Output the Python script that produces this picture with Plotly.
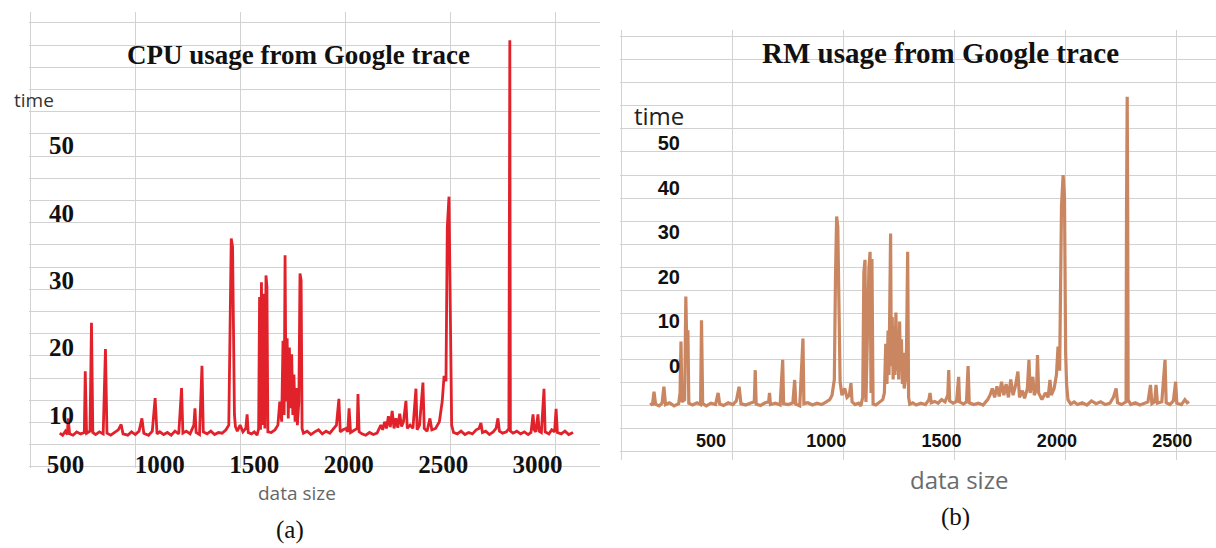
import plotly.graph_objects as go

W, H = 1216, 548

# ---------------- data ----------------
cpu_size = [470, 485, 500, 510, 515, 522, 540, 560, 580, 600, 605, 612, 630, 638, 645, 660, 680, 700, 712, 720,
            740, 760, 780, 795, 805, 830, 850, 870, 890, 905, 915, 940, 960, 975, 985, 1000, 1020, 1040, 1060, 1080,
            1100, 1115, 1122, 1140, 1160, 1180, 1186, 1192, 1210, 1223, 1230, 1250, 1270, 1290, 1310, 1330, 1350, 1365, 1372, 1378,
            1385, 1390, 1395, 1400, 1410, 1425, 1440, 1455, 1462, 1468, 1485, 1500, 1515, 1523, 1528, 1533, 1538, 1543, 1550, 1556,
            1562, 1567, 1572, 1590, 1610, 1625, 1635, 1645, 1652, 1658, 1663, 1668, 1674, 1680, 1686, 1692, 1698, 1704, 1710, 1716,
            1722, 1728, 1736, 1742, 1748, 1753, 1760, 1780, 1800, 1820, 1840, 1860, 1880, 1900, 1920, 1935, 1948, 1955, 1970, 1985,
            1995, 2002, 2010, 2030, 2045, 2049, 2055, 2070, 2090, 2110, 2130, 2150, 2170, 2180, 2190, 2200, 2210, 2220, 2230, 2240,
            2250, 2260, 2270, 2280, 2290, 2303, 2310, 2325, 2340, 2356, 2362, 2375, 2393, 2400, 2415, 2430, 2440, 2460, 2480, 2495,
            2505, 2515, 2522, 2531, 2538, 2545, 2555, 2575, 2595, 2615, 2635, 2655, 2675, 2690, 2700, 2708, 2725, 2745, 2765, 2780,
            2790, 2798, 2815, 2835, 2848, 2851, 2853, 2856, 2870, 2890, 2910, 2930, 2950, 2965, 2976, 2982, 2990, 3002, 3008, 3020,
            3034, 3040, 3060, 3075, 3090, 3098, 3105, 3125, 3145, 3165, 3188]
cpu_time = [7.3, 7.0, 7.6, 7.1, 9.5, 7.2, 7.0, 7.5, 7.2, 7.4, 16.5, 7.3, 7.6, 23.7, 7.4, 7.1, 7.5, 7.2, 19.8, 7.3,
            7.0, 7.4, 7.8, 8.6, 7.2, 7.0, 7.5, 7.1, 7.6, 9.5, 7.3, 7.0, 7.6, 12.5, 7.2, 7.5, 7.1, 7.4, 7.0, 7.6,
            7.2, 14.0, 7.3, 7.6, 7.2, 8.5, 11.0, 7.4, 7.1, 17.3, 7.5, 7.2, 7.6, 7.1, 7.4, 7.3, 7.8, 8.5, 20.5, 36.2,
            35.0, 20.0, 10.0, 8.3, 7.6, 8.5, 7.5, 8.0, 10.1, 7.4, 7.2, 7.5, 7.0, 8.0, 27.5, 7.8, 29.7, 8.5, 28.0, 8.0,
            30.7, 29.0, 7.5, 7.4, 7.8, 8.5, 12.0, 9.0, 21.0, 10.0, 33.7, 12.0, 21.4, 9.5, 20.0, 11.0, 19.0, 10.0, 16.0, 9.0,
            14.0, 8.5, 12.0, 31.0, 30.0, 8.0, 7.3, 7.6, 7.1, 7.5, 7.8, 7.2, 7.6, 7.3, 8.0, 8.5, 12.4, 7.5, 7.8, 8.0,
            7.5, 11.0, 7.4, 7.8, 8.0, 13.1, 7.5, 7.2, 7.0, 7.4, 7.1, 7.3, 8.5, 7.8, 9.0, 8.0, 9.8, 8.2, 10.6, 8.0,
            9.5, 8.1, 10.2, 8.3, 9.0, 12.1, 8.0, 8.5, 8.0, 13.9, 7.8, 8.5, 14.8, 8.0, 7.6, 9.5, 7.8, 8.0, 9.0, 12.0,
            15.8, 15.0, 37.9, 42.4, 20.0, 8.5, 7.4, 7.2, 7.6, 7.1, 7.4, 7.2, 7.8, 8.0, 8.8, 7.4, 7.6, 7.1, 7.5, 8.0,
            9.5, 7.6, 7.3, 7.5, 8.0, 55.3, 65.6, 7.6, 7.3, 7.6, 7.2, 7.5, 7.1, 7.4, 10.1, 7.8, 7.5, 10.1, 7.6, 7.4,
            13.9, 7.5, 7.2, 7.8, 7.5, 10.9, 7.4, 7.2, 7.6, 7.1, 7.4]

rm_size = [238, 246, 253, 260, 275, 288, 296, 303, 320, 340, 360, 366, 370, 374, 386, 391, 394, 400, 404, 420,
           440, 455, 459, 464, 480, 500, 520, 531, 538, 555, 575, 595, 610, 622, 630, 650, 670, 688, 692, 696,
           715, 735, 750, 754, 758, 780, 800, 811, 815, 835, 855, 863, 868, 885, 899, 903, 920, 940, 960, 980,
           1000, 1015, 1025, 1035, 1040, 1045, 1050, 1054, 1060, 1068, 1080, 1090, 1100, 1107, 1112, 1125, 1140, 1150, 1158, 1163,
           1168, 1172, 1178, 1185, 1190, 1194, 1198, 1203, 1215, 1230, 1245, 1252, 1258, 1263, 1268, 1272, 1276, 1279, 1282, 1286,
           1290, 1294, 1298, 1302, 1306, 1310, 1314, 1318, 1322, 1326, 1330, 1333, 1338, 1343, 1348, 1353, 1357, 1362, 1375, 1390,
           1410, 1430, 1445, 1450, 1455, 1470, 1485, 1500, 1515, 1527, 1531, 1535, 1550, 1565, 1574, 1578, 1595, 1608, 1615, 1620,
           1640, 1660, 1680, 1700, 1710, 1720, 1730, 1740, 1750, 1760, 1770, 1780, 1790, 1800, 1810, 1820, 1831, 1838, 1850, 1860,
           1872, 1879, 1884, 1896, 1902, 1912, 1916, 1921, 1935, 1950, 1962, 1970, 1976, 1988, 1998, 2005, 2012, 2020, 2027, 2033,
           2038, 2042, 2048, 2060, 2075, 2090, 2110, 2130, 2150, 2170, 2190, 2210, 2230, 2245, 2257, 2263, 2280, 2295, 2300, 2302,
           2305, 2307, 2309, 2320, 2340, 2360, 2380, 2395, 2406, 2412, 2424, 2430, 2436, 2455, 2469, 2474, 2490, 2505, 2515, 2520,
           2540, 2555, 2565, 2573]
rm_time = [-8.2, -8.8, -5.7, -8.5, -8.9, -8.3, -4.6, -8.6, -8.2, -8.9, -8.4, -6.0, 5.5, -8.0, -7.5, 15.6, 7.7, 7.7, -8.3, -8.7,
           -8.2, -8.6, 10.3, -8.4, -8.9, -8.3, -8.6, -6.0, -8.5, -8.8, -8.2, -8.6, -7.8, -4.6, -8.4, -8.7, -8.3, -8.0, -0.9, -8.5,
           -8.8, -8.2, -8.0, -6.0, -8.6, -8.3, -8.7, 1.4, -8.4, -8.6, -8.2, -3.1, -8.5, -8.9, 6.2, -8.4, -8.2, -8.7, -8.3, -8.6,
           -8.0, -7.5, -6.5, -3.0, 20.0, 33.5, 31.2, 12.0, -3.5, -6.5, -5.0, -7.0, -6.5, -3.8, -8.0, -8.6, -8.3, -8.9, -7.0, 21.0,
           23.8, -8.0, 10.0, 22.0, 25.6, -6.0, 24.0, -8.5, -8.7, -8.2, -7.5, -6.0, 5.0, -4.0, 8.0, -2.0, 12.6, 29.7, 0.0, 11.0,
           -3.0, 9.0, -2.0, 12.0, -1.0, 8.0, -3.0, 10.0, -1.0, 6.0, -4.0, 3.0, -5.0, -3.0, 4.0, 25.6, -7.0, -8.5, -8.2, -8.7,
           -8.3, -8.6, -7.5, -6.0, -8.2, -7.9, -8.3, -7.5, -8.0, -6.5, -0.9, -7.8, -8.3, -7.9, -2.4, -8.0, -8.5, -8.0, 0.0, -8.2,
           -8.6, -8.3, -8.7, -7.5, -6.5, -5.0, -7.0, -4.5, -6.8, -3.5, -6.5, -4.0, -7.0, -3.0, -6.5, -4.5, -1.2, -7.0, -5.5, -7.2,
           -5.0, 1.4, -6.0, -2.4, -6.5, -5.0, 2.5, -6.0, -7.5, -6.0, -7.0, -3.1, -6.5, -5.0, -2.0, 4.4, -1.0, 35.7, 42.8, 38.0,
           3.0, -4.0, -7.5, -8.5, -8.0, -8.6, -8.2, -8.7, -7.8, -8.4, -8.0, -8.6, -8.3, -7.0, -5.0, -8.2, -8.6, -8.0, -8.0, 34.6,
           60.3, 35.0, -7.5, -8.6, -8.2, -8.7, -8.3, -8.0, -4.2, -8.4, -8.0, -4.2, -8.3, -8.0, 1.4, -8.2, -8.6, -7.8, -3.5, -8.3,
           -8.6, -7.5, -8.2, -7.9]

cpu_xticks = [500, 1000, 1500, 2000, 2500, 3000]
cpu_yticks = [10, 20, 30, 40, 50]
rm_xticks = [500, 1000, 1500, 2000, 2500]
rm_yticks = [0, 10, 20, 30, 40, 50]


def fx(p):
    return p / W


def fy(p):
    return 1 - p / H


fig = go.Figure()
# empty traces so that the two background grid subplots are created
fig.add_trace(go.Scatter(x=[], y=[], xaxis='x', yaxis='y', showlegend=False, hoverinfo='skip'))
fig.add_trace(go.Scatter(x=[], y=[], xaxis='x2', yaxis='y2', showlegend=False, hoverinfo='skip'))
fig.add_trace(go.Scatter(x=cpu_size, y=cpu_time, xaxis='x3', yaxis='y3', mode='lines',
                         line=dict(color='#E1222B', width=2.8), showlegend=False))
fig.add_trace(go.Scatter(x=rm_size, y=rm_time, xaxis='x4', yaxis='y4', mode='lines',
                         line=dict(color='#C98660', width=3.2), showlegend=False))

grid = dict(showgrid=True, gridcolor='#D2D2D2', gridwidth=1, zeroline=False, showline=False,
            showticklabels=False, ticks='', dtick=1, tick0=0, fixedrange=True)
plain = dict(showgrid=False, zeroline=False, showline=False, ticks='', fixedrange=True)

serif_tick = dict(family='Liberation Serif', size=25, color='#111111', weight='bold')
sans_xtick = dict(family='Liberation Sans', size=18, color='#111111', weight='bold')
sans_ytick = dict(family='Liberation Sans', size=20, color='#111111', weight='bold')

fig.update_layout(
    width=W, height=H, autosize=False,
    margin=dict(l=0, r=0, t=0, b=0),
    paper_bgcolor='white', plot_bgcolor='rgba(0,0,0,0)',
    xaxis=dict(grid, domain=[fx(29), fx(600)], range=[-0.019, 5.429], anchor='y'),
    yaxis=dict(grid, domain=[fy(468), fy(12)], range=[-0.05, 20.49], anchor='x'),
    xaxis2=dict(grid, domain=[fx(620), 1], range=[-0.018, 5.36], anchor='y2'),
    yaxis2=dict(grid, domain=[fy(460), fy(30)], range=[-0.36, 18.29], anchor='x2'),
    xaxis3=dict(plain, domain=[fx(41), fx(600)], range=[370.7, 3330.5], anchor='y3',
                tickvals=cpu_xticks, tickfont=serif_tick),
    yaxis3=dict(plain, domain=[fy(447), fy(12)], range=[5.25, 69.8], anchor='free', position=fx(74),
                tickvals=cpu_yticks, tickfont=serif_tick),
    xaxis4=dict(plain, domain=[fx(648), 1], range=[227, 2690], anchor='y4',
                tickvals=rm_xticks, tickfont=sans_xtick),
    yaxis4=dict(plain, domain=[fy(428), fy(30)], range=[-13.85, 75.27], anchor='free', position=fx(680),
                tickvals=rm_yticks, tickfont=sans_ytick),
)

ann = [
    dict(text='CPU usage from Google trace', x=fx(298), y=fy(55),
         font=dict(family='Liberation Serif', size=27, color='#111111', weight='bold')),
    dict(text='RM usage from Google trace', x=fx(940), y=fy(53),
         font=dict(family='Liberation Serif', size=29, color='#111111', weight='bold')),
    dict(text='time', x=fx(12), y=fy(100), xanchor='left',
         font=dict(family='Open Sans', size=19, color='#333333')),
    dict(text='time', x=fx(632), y=fy(115), xanchor='left',
         font=dict(family='Open Sans', size=24, color='#222222')),
    dict(text='data size', x=fx(297), y=fy(493),
         font=dict(family='Open Sans', size=19, color='#666666')),
    dict(text='data size', x=fx(959), y=fy(479),
         font=dict(family='Open Sans', size=24, color='#6b6b6b')),
    dict(text='(a)', x=fx(290), y=fy(530),
         font=dict(family='Liberation Serif', size=25, color='#111111')),
    dict(text='(b)', x=fx(955), y=fy(517),
         font=dict(family='Liberation Serif', size=25, color='#111111')),
]
for a in ann:
    a.setdefault('xanchor', 'center')
    a.update(xref='paper', yref='paper', yanchor='middle', showarrow=False)
fig.update_layout(annotations=ann)

fig.write_html('out.html')
